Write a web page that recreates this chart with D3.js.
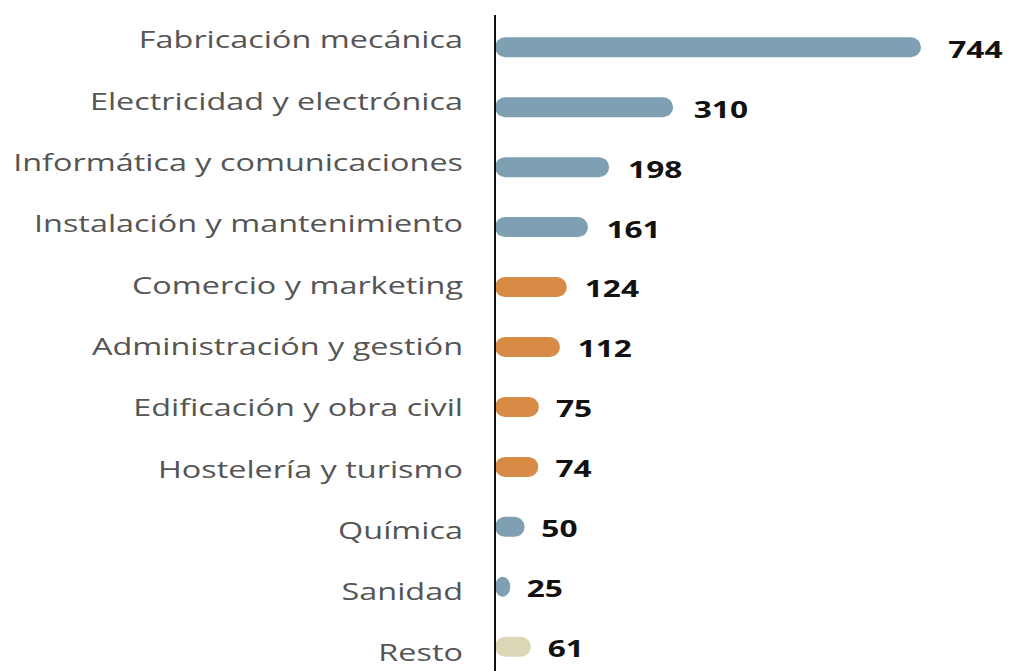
<!DOCTYPE html>
<html>
<head>
<meta charset="utf-8">
<script src="https://cdn.jsdelivr.net/npm/d3@7"></script>
<style>
  body { margin: 0; background: #fff; }
  text { font-family: "Open Sans", sans-serif; }
</style>
</head>
<body>
<div id="chart"></div>
<script>
// families, values and color group
const categories = [
  "Fabricación mecánica",
  "Electricidad y electrónica",
  "Informática y comunicaciones",
  "Instalación y mantenimiento",
  "Comercio y marketing",
  "Administración y gestión",
  "Edificación y obra civil",
  "Hostelería y turismo",
  "Química",
  "Sanidad",
  "Resto"
];
const values = [744, 310, 198, 161, 124, 112, 75, 74, 50, 25, 61];
const groups = ["a", "a", "a", "a", "b", "b", "b", "b", "a", "a", "c"];

const WIDTH = 1009, HEIGHT = 671;
const AXIS_X = 495;

const colors = new Map();
colors.set("a", "#7f9fb2");
colors.set("b", "#d78b45");
colors.set("c", "#dbd7b6");

const svg = d3.select("#chart").append("svg")
  .attr("width", WIDTH).attr("height", HEIGHT);

const x = d3.scaleLinear().domain([0, 744]).range([AXIS_X + 1, 921]);
const y = d3.scaleBand().domain(categories).range([17, 677]).paddingInner(0.65).paddingOuter(0.33);
// labels sit a bit higher at the top and lower at the bottom
const yLabel = d3.scalePoint().domain(categories).range([40, 653]);

const barH = 20;

svg.selectAll("rect.bar").data(categories).join("rect")
  .attr("class", "bar")
  .attr("x", x(0) - 1)
  .attr("y", d => y(d) + y.bandwidth() / 2 - barH / 2)
  .attr("width", (d, i) => Math.max(x(values[i]) - x(0) + 1, barH * 0.7))
  .attr("height", barH)
  .attr("rx", barH / 2)
  .attr("fill", (d, i) => colors.get(groups[i]));

svg.append("line")
  .attr("x1", AXIS_X).attr("x2", AXIS_X)
  .attr("y1", 15).attr("y2", HEIGHT)
  .attr("stroke", "#111").attr("stroke-width", 2);

svg.selectAll("text.cat").data(categories).join("text")
  .attr("class", "cat")
  .attr("transform", d => `translate(463, ${yLabel(d)}) scale(1.35, 1)`)
  .attr("dy", "0.35em")
  .attr("text-anchor", "end")
  .attr("fill", "#555")
  .style("font-size", "24px")
  .text(d => d);

svg.selectAll("text.val").data(categories).join("text")
  .attr("class", "val")
  .attr("transform", (d, i) => `translate(${x(values[i]) + 16 + values[i] * 0.015}, ${y(d) + y.bandwidth() / 2 + 2}) scale(1.32, 1)`)
  .attr("dy", "0.35em")
  .attr("fill", "#111")
  .style("font-size", "24px")
  .style("font-weight", "bold")
  .text((d, i) => values[i]);
</script>
</body>
</html>
